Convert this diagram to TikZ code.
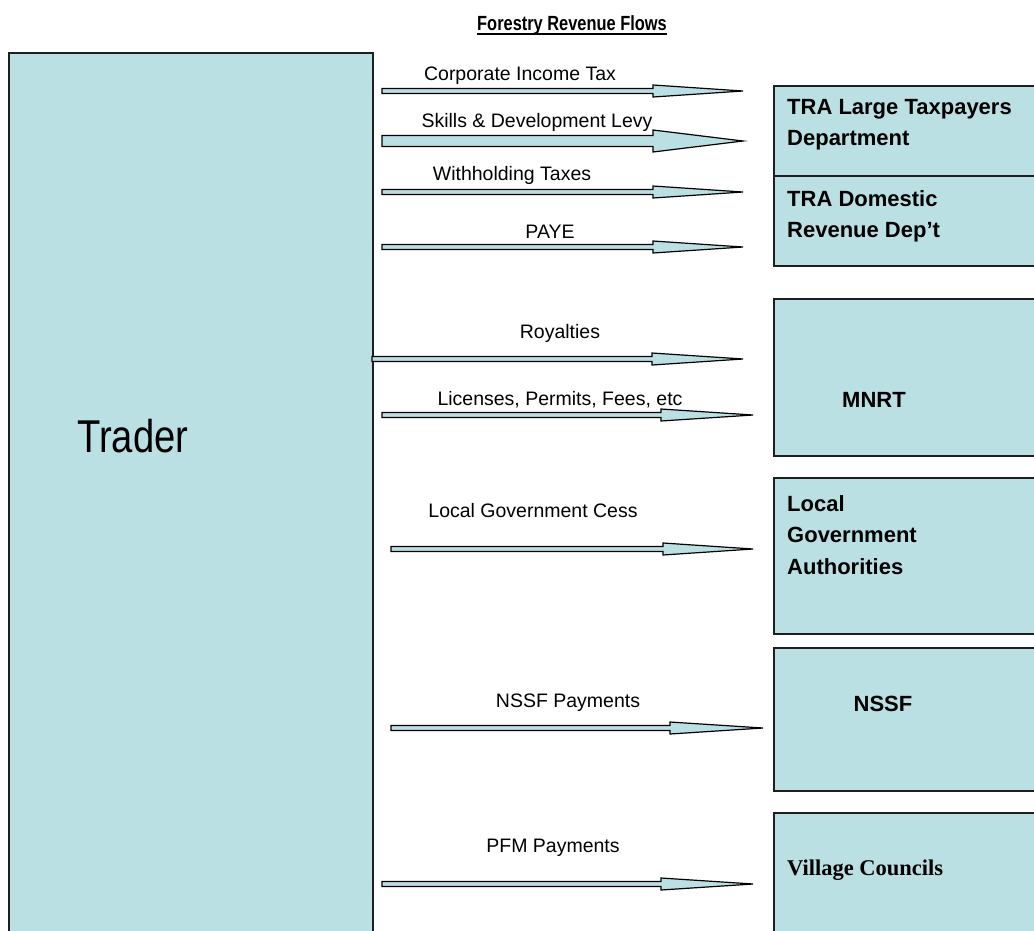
\documentclass[tikz,border=0pt]{standalone}
\usepackage{fontspec}
\setmainfont{Liberation Sans}
\newfontfamily\trfont[FakeStretch=0.83]{Liberation Sans}
\newfontfamily\ttlfont[FakeStretch=0.8]{Liberation Sans}
\newfontfamily\vcfont{Liberation Serif}
\usetikzlibrary{calc}
\definecolor{boxfill}{RGB}{187,224,227}
\definecolor{edgecol}{RGB}{30,30,30}
\tikzset{
  panel/.style={draw=edgecol, line width=1.6pt, fill=boxfill, inner sep=0pt, anchor=north west},
  flowarrow/.style={draw=black, line width=1.2pt, fill=boxfill, line join=miter},
  flowlabel/.style={font=\fontsize{19.5}{23}\selectfont, inner sep=0pt, anchor=base},
  boxtext/.style={font=\fontsize{22}{31.5}\selectfont\bfseries, inner sep=0pt, align=left, anchor=north west},
}
% #1 name, #2 x start, #3 x head, #4 x tip, #5 y, #6 shaft half, #7 head half
\newcommand\flowarr[7]{%
  \coordinate (#1-s) at (#2,#5);
  \coordinate (#1-h) at (#3,#5);
  \coordinate (#1-e) at (#4,#5);
  \draw[flowarrow] ($(#1-s)+(0,-#6)$) -- ($(#1-h)+(0,-#6)$) -- ($(#1-h)+(0,-#7)$)
    -- (#1-e) -- ($(#1-h)+(0,#7)$) -- ($(#1-h)+(0,#6)$) -- ($(#1-s)+(0,#6)$) -- cycle;
}
\begin{document}
\begin{tikzpicture}[x=1pt,y=-1pt]
\useasboundingbox (0,0) rectangle (1034,930);
\clip (0,0) rectangle (1034,930);

% title
\node (title) [font=\ttlfont\fontsize{20.5}{24}\selectfont\bfseries, inner sep=0pt, anchor=base] at (572,30) {Forestry Revenue Flows};
\draw[line width=2.2pt] (title.west |- 0,34) -- (title.east |- 0,34);

% trader
\node (trader) [panel, minimum width=364pt, minimum height=900pt] at (8,52) {};
\node (tradertext) [font=\trfont\fontsize{46}{50}\selectfont, inner sep=0pt, anchor=base west] at (77,452) {Trader};

% right boxes
\node (tra) [panel, minimum width=280pt, minimum height=180pt] at (773,85) {};
\draw[edgecol, line width=1.6pt] (tra.west |- 0,176) -- (tra.east |- 0,176);
\node (tralarge) [boxtext] at (787,99) {TRA Large Taxpayers\\Department};
\node (tradom) [boxtext] at (787,190) {TRA Domestic\\Revenue Dep’t};

\node (mnrt) [panel, minimum width=280pt, minimum height=157pt] at (773,298) {};
\node (mnrttext) [boxtext, anchor=center] at (874,400) {MNRT};

\node (lga) [panel, minimum width=280pt, minimum height=156pt] at (773,477) {};
\node (lgatext) [boxtext] at (787,495) {Local\\Government\\Authorities};

\node (nssf) [panel, minimum width=280pt, minimum height=143pt] at (773,647) {};
\node (nssftext) [boxtext, anchor=center] at (883,704) {NSSF};

\node (vc) [panel, minimum width=280pt, minimum height=150pt] at (773,812) {};
\node (vctext) [font=\vcfont\fontsize{22.5}{26}\selectfont\bfseries, inner sep=0pt, anchor=base west] at (787,875) {Village Councils};

% arrows
\flowarr{cit}{382}{653}{743}{91}{2.5}{6}
\flowarr{sdl}{382}{653}{743}{141}{5.5}{11}
\flowarr{wht}{382}{653}{743}{192}{2.5}{6}
\flowarr{paye}{382}{653}{743}{247}{2.5}{6}
\flowarr{roy}{372}{652}{743}{359}{2.5}{6}
\flowarr{lic}{382}{661}{753}{415}{2.5}{6}
\flowarr{cess}{391}{663}{753}{549}{2.5}{6}
\flowarr{nssfa}{391}{670}{763}{728}{2.5}{6}
\flowarr{pfm}{382}{661}{753}{884}{2.5}{6}

% labels
\node (citl) [flowlabel] at (520,80) {Corporate Income Tax};
\node (sdll) [flowlabel] at (537,127) {Skills \& Development Levy};
\node (whtl) [flowlabel] at (512,180) {Withholding Taxes};
\node (payel) [flowlabel] at (550,238) {PAYE};
\node (royl) [flowlabel] at (560,338) {Royalties};
\node (licl) [flowlabel] at (560,405) {Licenses, Permits, Fees, etc};
\node (cessl) [flowlabel] at (533,517) {Local Government Cess};
\node (nssfl) [flowlabel] at (568,707) {NSSF Payments};
\node (pfml) [flowlabel] at (553,852) {PFM Payments};
\end{tikzpicture}
\end{document}
